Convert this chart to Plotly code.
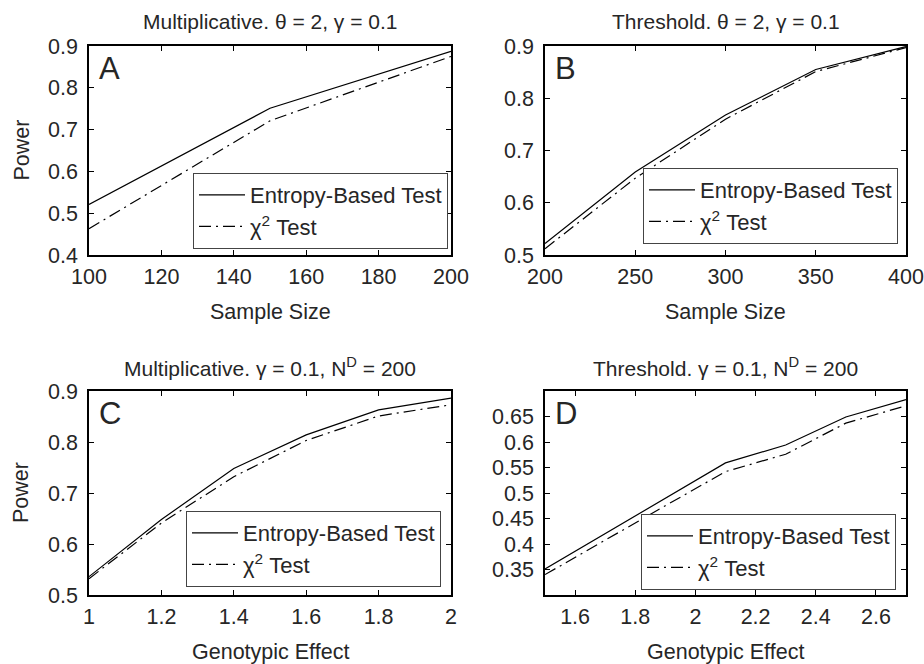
import plotly.graph_objects as go

# ---------------- data ----------------
a_x = [100, 150, 200]
a_entropy = [0.521, 0.751, 0.887]
a_chi2 = [0.463, 0.721, 0.875]

b_x = [200, 250, 300, 350, 400]
b_entropy = [0.522, 0.659, 0.768, 0.855, 0.899]
b_chi2 = [0.512, 0.647, 0.760, 0.851, 0.897]

c_x = [1.0, 1.2, 1.4, 1.6, 1.8, 2.0]
c_entropy = [0.536, 0.648, 0.748, 0.814, 0.863, 0.886]
c_chi2 = [0.532, 0.641, 0.732, 0.803, 0.851, 0.873]

d_x = [1.5, 1.7, 1.9, 2.1, 2.3, 2.5, 2.7]
d_entropy = [0.351, 0.420, 0.490, 0.559, 0.594, 0.649, 0.683]
d_chi2 = [0.340, 0.408, 0.475, 0.542, 0.576, 0.637, 0.671]

titles = ["Multiplicative. θ = 2, γ = 0.1", "Threshold. θ = 2, γ = 0.1",
          "Multiplicative. γ = 0.1, N<sup>D</sup> = 200", "Threshold. γ = 0.1, N<sup>D</sup> = 200"]
letters = ["A", "B", "C", "D"]
xtitles = ["Sample Size", "Sample Size", "Genotypic Effect", "Genotypic Effect"]
series_names = ["Entropy-Based Test", "χ<sup>2</sup> Test"]

FONT = "Liberation Sans, Arial, sans-serif"
TXT = "#262626"
W, H = 924, 664
FS = 21.5

# pixel boxes (left, top, right, bottom)
boxes = [(89, 46, 451, 255), (545, 46, 906, 255), (89, 391, 451, 595), (545, 391, 906, 595)]
legend_pos = [(448, 249), (898, 244), (441, 587), (896, 590)]

panels = [(a_x, a_entropy, a_chi2), (b_x, b_entropy, b_chi2),
          (c_x, c_entropy, c_chi2), (d_x, d_entropy, d_chi2)]

xranges = [[100, 200], [200, 400], [1, 2], [1.5, 2.7]]
yranges = [[0.4, 0.9], [0.5, 0.9], [0.5, 0.9], [0.3, 0.7]]
xticks = [[100, 120, 140, 160, 180, 200], [200, 250, 300, 350, 400],
          [1, 1.2, 1.4, 1.6, 1.8, 2], [1.6, 1.8, 2, 2.2, 2.4, 2.6]]
yticks = [[0.4, 0.5, 0.6, 0.7, 0.8, 0.9], [0.5, 0.6, 0.7, 0.8, 0.9],
          [0.5, 0.6, 0.7, 0.8, 0.9], [0.35, 0.4, 0.45, 0.5, 0.55, 0.6, 0.65]]

fig = go.Figure()
layout = dict(width=W, height=H, margin=dict(l=0, r=0, t=0, b=0, autoexpand=False),
              paper_bgcolor="white", plot_bgcolor="white", showlegend=True,
              font=dict(family=FONT, size=FS, color=TXT))
annotations = []

for i, (xs, ent, chi) in enumerate(panels):
    k = "" if i == 0 else str(i + 1)
    leg = "legend" + k
    l, t, r, b = boxes[i]
    fig.add_trace(go.Scatter(x=xs, y=ent, mode="lines", name=series_names[0],
                             line=dict(color="black", width=1.2),
                             xaxis="x" + k, yaxis="y" + k, legend=leg))
    fig.add_trace(go.Scatter(x=xs, y=chi, mode="lines", name=series_names[1],
                             line=dict(color="black", width=1.2, dash="12px,5px,2px,5px"),
                             xaxis="x" + k, yaxis="y" + k, legend=leg))
    ax = dict(showline=True, linecolor="black", linewidth=1.6, mirror="ticks",
              ticks="inside", ticklen=5, tickcolor="black", tickwidth=1, showgrid=False,
              zeroline=False, automargin=False, tickfont=dict(family=FONT, size=FS, color=TXT))
    layout["xaxis" + k] = dict(ax, domain=[l / W, r / W], range=xranges[i],
                               tickvals=xticks[i], anchor="y" + k, ticklabelstandoff=1)
    layout["yaxis" + k] = dict(ax, domain=[1 - b / H, 1 - t / H], range=yranges[i],
                               tickvals=yticks[i], anchor="x" + k, ticklabelstandoff=5)
    lx, ly = legend_pos[i]
    layout[leg] = dict(x=lx / W, y=1 - ly / H, xanchor="right", yanchor="bottom",
                       bordercolor="#444444", borderwidth=1, bgcolor="white",
                       font=dict(family=FONT, size=22, color=TXT),
                       tracegroupgap=0, itemwidth=46)
    cx = (l + r) / 2
    annotations.append(dict(text=titles[i], x=cx / W, y=1 - (t - 24) / H, xref="paper", yref="paper",
                            xanchor="center", yanchor="middle", showarrow=False,
                            font=dict(family=FONT, size=21, color=TXT)))
    annotations.append(dict(text=xtitles[i], x=cx / W, y=1 - (b + 57) / H, xref="paper", yref="paper",
                            xanchor="center", yanchor="middle", showarrow=False,
                            font=dict(family=FONT, size=FS, color=TXT)))
    annotations.append(dict(text=letters[i], x=(l + 8) / W, y=1 - (t + 3) / H, xref="paper", yref="paper",
                            xanchor="left", yanchor="top", showarrow=False,
                            font=dict(family=FONT, size=31, color=TXT)))
    if i in (0, 2):
        annotations.append(dict(text="Power", x=21 / W, y=1 - ((t + b) / 2) / H, xref="paper", yref="paper",
                                xanchor="center", yanchor="middle", showarrow=False, textangle=-90,
                                font=dict(family=FONT, size=FS, color=TXT)))

layout["annotations"] = annotations
fig.update_layout(**layout)
fig.write_html("out.html")
